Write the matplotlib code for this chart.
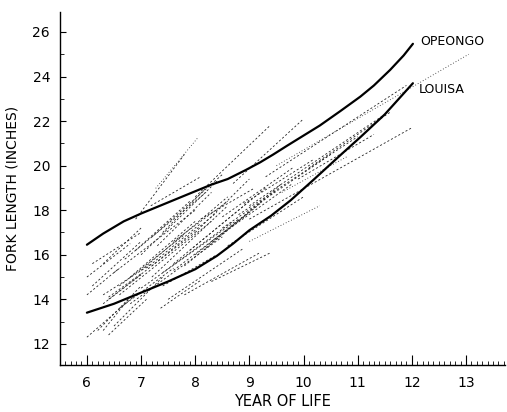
import matplotlib
matplotlib.use("Agg")
import matplotlib.pyplot as plt
from matplotlib.ticker import MultipleLocator

# ---- data ----
opeongo_x = [6.0, 6.3, 6.68, 7.0, 7.5, 8.0, 8.3, 8.6, 8.93, 9.2, 9.44, 9.7, 10.0, 10.3,
             10.68, 11.05, 11.3, 11.6, 11.85, 12.02]
opeongo_y = [16.45, 16.95, 17.5, 17.85, 18.35, 18.85, 19.15, 19.4, 19.8, 20.15, 20.5, 20.9,
             21.35, 21.8, 22.45, 23.1, 23.6, 24.3, 24.95, 25.47]
louisa_x = [6.0, 6.5, 7.05, 7.5, 8.0, 8.4, 8.7, 9.0, 9.4, 9.76, 10.2, 10.68, 11.05, 11.5, 12.02]
louisa_y = [13.4, 13.8, 14.35, 14.8, 15.35, 15.95, 16.5, 17.1, 17.75, 18.44, 19.4, 20.47,
            21.28, 22.3, 23.7]

# individual fish growth lines: start year, start length, end year, end length
fish_x0 = [6.0, 6.2, 6.4, 6.5, 6.3, 6.1, 6.0, 6.4, 6.6, 6.8, 7.0, 7.2, 6.5, 6.7, 7.0,
           7.3, 7.5, 7.8, 8.3, 7.6, 7.9, 8.0, 7.27, 8.0, 8.7, 6.9, 8.5, 8.8, 9.0, 9.3,
           9.5, 9.0, 8.6, 9.0, 8.3, 6.3, 6.6, 7.4, 7.1, 7.6, 8.1, 6.3, 7.4,
           6.4, 6.3, 7.36, 6.6, 6.8, 7.0, 7.2, 7.4, 7.6, 7.8, 8.0, 8.2, 6.9, 7.2, 7.18,
           6.1, 6.0, 8.5, 8.9, 9.6, 9.9, 10.1]
fish_y0 = [12.3, 12.6, 12.4, 12.8, 13.8, 14.6, 15.0, 14.0, 14.2, 13.8, 14.5, 15.0, 15.2, 15.8, 16.0,
           16.4, 14.0, 14.2, 14.8, 15.6, 16.2, 17.0, 18.98, 18.6, 19.2, 17.6, 17.2, 17.8, 18.2, 19.5,
           20.0, 17.6, 16.4, 16.6, 16.6, 14.2, 13.6, 14.6, 15.4, 16.6, 17.6, 15.6, 17.0,
           14.1, 12.6, 13.6, 14.6, 15.0, 15.3, 15.5, 15.2, 15.3, 15.5, 16.0, 16.3, 16.2, 16.8, 18.2,
           15.6, 14.2, 17.7, 18.3, 18.8, 19.4, 19.9]
fish_x1 = [6.9, 7.0, 7.1, 7.4, 7.0, 7.0, 6.8, 8.0, 8.3, 8.5, 8.8, 8.6, 8.0, 8.2, 8.4,
           8.3, 8.9, 9.2, 9.4, 9.0, 9.3, 9.0, 8.04, 9.39, 10.0, 7.8, 10.5, 11.0, 11.5, 11.9,
           13.05, 12.0, 10.0, 10.3, 9.8, 7.2, 7.6, 8.4, 8.1, 8.6, 9.1, 7.0, 8.2,
           7.0, 6.8, 8.1, 7.8, 8.0, 8.6, 8.4, 8.7, 9.0, 9.2, 9.5, 9.6, 7.9, 8.5, 8.1,
           7.0, 6.6, 9.8, 10.2, 10.8, 11.3, 11.6]
fish_y1 = [14.2, 14.6, 14.0, 15.0, 15.1, 16.6, 16.5, 17.0, 17.5, 16.8, 17.6, 18.2, 18.0, 18.8, 19.3,
           18.8, 16.3, 16.1, 16.1, 18.4, 19.0, 19.4, 21.23, 21.82, 22.1, 20.5, 20.5, 21.3, 22.3, 23.6,
           25.0, 21.7, 18.6, 18.2, 19.2, 15.6, 15.4, 16.0, 17.4, 18.4, 19.0, 17.2, 19.0,
           15.15, 14.1, 14.85, 16.9, 17.5, 18.6, 17.9, 17.5, 17.9, 18.3, 18.9, 19.2, 18.4, 19.6, 19.5,
           17.0, 15.4, 19.9, 20.3, 20.4, 21.4, 22.4]
fish_dotted = [22, 30, 33, 62]

xticks = [6, 7, 8, 9, 10, 11, 12, 13]
yticks = [12, 14, 16, 18, 20, 22, 24, 26]

fig = plt.figure(figsize=(5.07, 4.12), dpi=100)
ax = fig.add_axes([0.118, 0.114, 0.878, 0.857])

for i in range(len(fish_x0)):
    ls = (0, (1, 2.5)) if i in fish_dotted else (0, (2.5, 2.5))
    ax.plot([fish_x0[i], fish_x1[i]], [fish_y0[i], fish_y1[i]], color="#222222",
            lw=0.6, linestyle=ls)

ax.plot(opeongo_x, opeongo_y, color="black", lw=1.6, solid_capstyle="round",
        solid_joinstyle="round")
ax.plot(louisa_x, louisa_y, color="black", lw=1.6, solid_capstyle="round",
        solid_joinstyle="round")

ax.text(12.15, 25.56, "OPEONGO", fontsize=9, va="center", ha="left")
ax.text(12.12, 23.4, "LOUISA", fontsize=9, va="center", ha="left")

ax.set_xlim(5.5, 13.72)
ax.set_ylim(11.05, 26.9)
ax.spines["top"].set_visible(False)
ax.spines["right"].set_visible(False)
ax.spines["left"].set_linewidth(1.0)
ax.spines["bottom"].set_linewidth(1.0)

ax.set_xticks(xticks)
ax.set_yticks(yticks)
ax.xaxis.set_minor_locator(MultipleLocator(0.1))
ax.yaxis.set_minor_locator(MultipleLocator(1))
ax.tick_params(axis="x", which="major", direction="in", length=7, width=0.8, pad=8, labelsize=10)
ax.tick_params(axis="x", which="minor", direction="in", length=3, width=0.6)
ax.tick_params(axis="y", which="major", direction="in", length=4, width=0.8, pad=7, labelsize=10)
ax.tick_params(axis="y", which="minor", direction="in", length=3, width=0.6)

ax.set_xlabel("YEAR OF LIFE", fontsize=10.5, labelpad=3)
ax.set_ylabel("FORK LENGTH (INCHES)", fontsize=10, labelpad=9)

fig.savefig("out.png", dpi=100)
